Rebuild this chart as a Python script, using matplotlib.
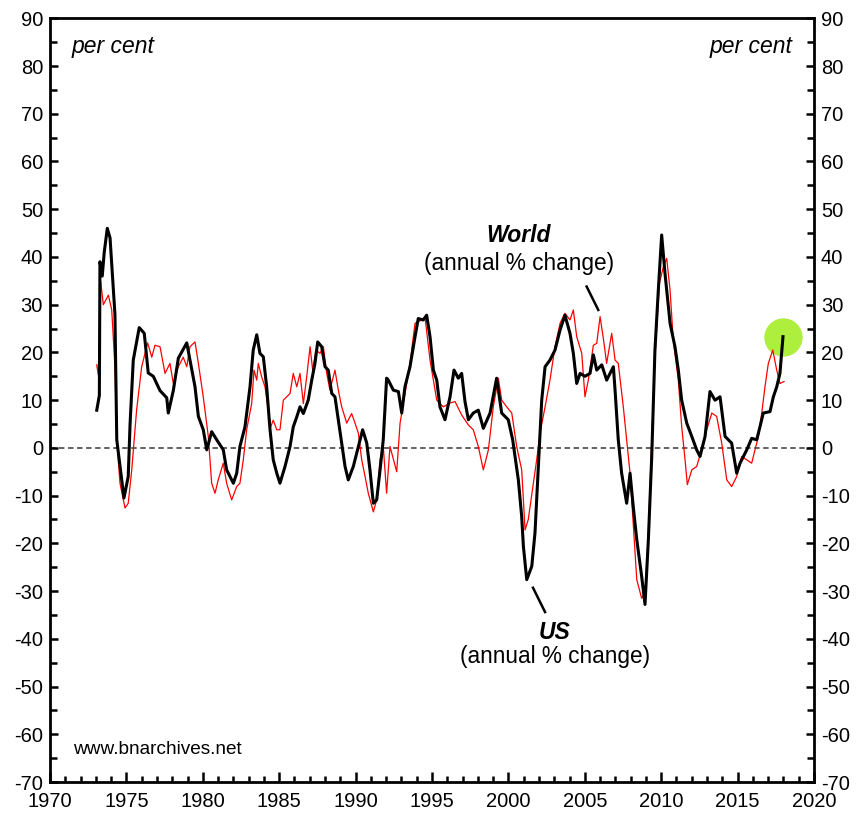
import matplotlib
matplotlib.use("Agg")
import matplotlib.pyplot as plt
from matplotlib.ticker import MultipleLocator

plt.rcParams['font.family'] = ['Liberation Sans', 'DejaVu Sans']
plt.rcParams['axes.unicode_minus'] = False

# US (annual % change)
us_year = [1973.06, 1973.23, 1973.27, 1973.42, 1973.55, 1973.75, 1973.93, 1974.25, 1974.37,
           1974.69, 1974.84, 1975.12, 1975.24, 1975.45, 1975.84, 1976.17, 1976.43, 1976.76,
           1977.20, 1977.64, 1977.74, 1978.07, 1978.40, 1978.95, 1979.16, 1979.49, 1979.71,
           1980.03, 1980.26, 1980.58, 1980.91, 1981.34, 1981.56, 1982.00, 1982.22,
           1982.43, 1982.76, 1983.09, 1983.30, 1983.53, 1983.74, 1983.96, 1984.18, 1984.40,
           1984.61, 1984.84, 1985.05, 1985.38, 1985.71, 1985.92, 1986.15, 1986.36, 1986.58,
           1986.90, 1987.13, 1987.34, 1987.52, 1987.78, 1988.00, 1988.21, 1988.44, 1988.65,
           1988.87, 1989.09, 1989.31, 1989.52, 1989.85, 1990.18, 1990.46, 1990.73, 1990.94,
           1991.16, 1991.38, 1991.60, 1991.81, 1992.03,
           1992.14, 1992.47, 1992.80,
           1993.02, 1993.23, 1993.56, 1993.89, 1994.10, 1994.43, 1994.65, 1994.87, 1995.09,
           1995.31, 1995.52, 1995.85, 1996.18, 1996.44, 1996.72, 1996.94, 1997.16, 1997.38,
           1997.70, 1998.03, 1998.36, 1998.80, 1999.23, 1999.56, 1999.99, 2000.28, 2000.65,
           2000.87, 2000.98, 2001.20, 2001.53, 2001.74, 2001.96, 2002.18, 2002.40, 2002.72,
           2003.05, 2003.38, 2003.70, 2004.03, 2004.25, 2004.47, 2004.69, 2005.01, 2005.34,
           2005.56, 2005.78, 2006.11, 2006.43, 2006.87, 2006.98, 2007.19, 2007.41, 2007.74,
           2007.96, 2008.17, 2008.40, 2008.72, 2008.94, 2009.16, 2009.38, 2009.59, 2009.81,
           2010.03, 2010.25, 2010.58, 2010.90, 2011.12, 2011.34, 2011.67, 2012.00, 2012.32,
           2012.54, 2012.87, 2013.19, 2013.52, 2013.85, 2014.18, 2014.61, 2014.94, 2015.16,
           2015.60, 2015.92, 2016.25, 2016.47, 2016.68, 2017.12, 2017.34, 2017.56, 2017.77,
           2017.97]
us_val = [7.9, 11, 39, 36, 41, 46, 44, 28, 1.7,
          -6.7, -10.5, -6, 5, 18.4, 25.2, 24, 15.7, 15,
          12, 10.5, 7.3, 12, 18.8, 22, 18.4, 12.8, 6.6,
          3.8, -0.4, 3.4, 1.7, -0.4, -4.6, -7.4, -5.3,
          0.3, 4.4, 12.8, 20.5, 23.7, 19.8, 19.1, 12.8, 3.8,
          -2.5, -5.3, -7.4, -3.9, 0.3, 4.4, 6.5, 8.6, 7.2,
          10, 14.2, 17.7, 22.2, 21.2, 17, 16.3, 11.4, 10.7,
          5.8, 1, -3.9, -6.7, -3.9, 0.3, 3.8, 1, -4.6,
          -11.6, -10.9, -4.6, 1.7, 14.6,
          14.2, 12.1, 11.8,
          7.3, 12.8, 17, 23.3, 27.1, 26.8, 27.8, 23.3, 16.3,
          14.2, 8.6, 5.9, 10.7, 16.3, 14.6, 15.6, 9.7, 5.9,
          7.3, 7.9, 4.1, 7.3, 14.6, 7.3, 5.9, 1.7, -6.7,
          -14.4, -20.6, -27.6, -24.8, -17.8, -3.9, 10, 17, 18.4,
          20.5, 24.7, 27.8, 24, 19.8, 13.5, 15.6, 15, 15.6,
          19.5, 16.3, 17.4, 14.2, 17, 12.1, 1.7, -5.3, -11.6,
          -5.3, -12.3, -19.2, -26.9, -32.8, -19.2, -1.8, 20.5, 33,
          44.6, 36.5, 26.1, 21.2, 16.3, 10, 5.2, 2.4, -0.4,
          -1.8, 2.4, 11.8, 10, 10.7, 2.4, 1, -5.3, -3.2,
          -0.4, 2, 1.7, 4.5, 7.3, 7.6, 10.7, 12.8, 15.6,
          23.3]

# World (annual % change)
world_year = [1973.06, 1973.16, 1973.32, 1973.49, 1973.82, 1974.04, 1974.25, 1974.37, 1974.58,
              1974.91, 1975.12, 1975.35, 1975.67, 1976.00, 1976.39, 1976.66, 1976.87, 1977.20,
              1977.53, 1977.85, 1978.07, 1978.40, 1978.72, 1978.95, 1979.16, 1979.49, 1979.71,
              1980.03, 1980.36, 1980.58, 1980.80, 1981.01, 1981.34, 1981.56, 1981.89, 1982.22,
              1982.43, 1982.65, 1982.87, 1983.20, 1983.35, 1983.53, 1983.63, 1983.85, 1984.07,
              1984.29, 1984.44, 1984.61, 1984.84, 1985.05, 1985.27, 1985.49, 1985.71, 1985.92,
              1986.15, 1986.36, 1986.58, 1986.80, 1987.02, 1987.19, 1987.41, 1987.67, 1987.89,
              1988.11, 1988.32, 1988.65, 1988.87, 1989.09, 1989.42, 1989.74, 1989.96, 1990.18,
              1990.40, 1990.62, 1990.83, 1991.16, 1991.38, 1991.60, 1991.81, 1992.03, 1992.25,
              1992.69, 1992.91, 1993.23, 1993.56, 1993.89, 1994.33, 1994.54, 1994.87, 1995.31,
              1995.74, 1996.18, 1996.51, 1996.94, 1997.38, 1997.70, 1998.03, 1998.36, 1998.69,
              1999.01, 1999.34, 1999.56, 1999.89, 2000.22, 2000.54, 2000.87, 2001.09, 2001.30,
              2001.63, 2001.85, 2002.07, 2002.40, 2002.72, 2003.05, 2003.38, 2003.70, 2004.03,
              2004.25, 2004.47, 2004.80, 2005.01, 2005.23, 2005.56, 2005.78, 2006.00, 2006.21,
              2006.43, 2006.76, 2006.98, 2007.19, 2007.52, 2007.74, 2007.96, 2008.17, 2008.40,
              2008.72, 2008.94, 2009.16, 2009.38, 2009.59, 2009.88, 2010.14, 2010.36, 2010.58,
              2010.79, 2011.12, 2011.34, 2011.56, 2011.71, 2012.00, 2012.32, 2012.65, 2012.98,
              2013.31, 2013.63, 2013.96, 2014.29, 2014.61, 2014.94, 2015.27, 2015.60, 2015.92,
              2016.14, 2016.36, 2016.58, 2016.79, 2017.01, 2017.30, 2017.56, 2017.77, 2018.04]
world_val = [17.4, 15.3, 34.8, 30, 32, 28.9, 17, 1.7, -7.4,
             -12.6, -11.6, -4.6, 8, 17, 22, 19, 21.5, 21.2,
             15.6, 17.7, 13.5, 17, 19, 17, 21.2, 22.2, 17.7,
             10.7, 2.4, -7.4, -9.5, -6.7, -3.2, -7.4, -10.9, -8.1,
             -7.4, -2.5, 3.8, 9.3, 16.3, 14.2, 17.7, 14.9, 12.8,
             7.9, 4.4, 5.8, 3.8, 3.8, 10, 10.7, 11.4, 15.6,
             12.8, 15.6, 9.3, 14.9, 21.2, 16.3, 20.5, 19.8, 21.2,
             15.6, 12.1, 16.3, 12.1, 8.6, 5.2, 7.2, 5.2, 3.1,
             -2.5, -6, -9.5, -13.4, -10.9, -2.5, 0.3, -9.5, 0.3,
             -5, 5.2, 11.4, 17.7, 26.1, 26.8, 27.5, 18.4, 10,
             8.6, 9.4, 9.7, 6.9, 4.8, 3.8, 0.3, -4.6, -0.4,
             8.6, 14.6, 10, 8.6, 7.3, 0.3, -4.6, -17.2, -15,
             -7.4, -2.5, 3.1, 8.6, 14.2, 21.2, 26.1, 28.2, 26.8,
             28.9, 23.3, 19.8, 10.7, 14.2, 21.5, 21.9, 27.5, 23,
             17.7, 24, 18.4, 17.7, 8.6, 1.7, -5.3, -15.8, -27.6,
             -31.5, -30.4, -17.8, 1.7, 19, 34.5, 37.9, 39.7, 33,
             22.6, 14.2, 4.5, -2.5, -7.7, -4.6, -3.9, -0.4, 3.8,
             7.3, 6.6, 1, -6.7, -8.1, -6, -1.8, -2.5, -3.2,
             -0.4, 2.4, 7.3, 12.8, 17.7, 20.5, 16.3, 13.5, 13.9]

fig = plt.figure(figsize=(8.68, 8.13), dpi=100)
ax = fig.add_axes([0.0576, 0.0381, 0.8802, 0.9394])

ax.axhline(0, color='#555555', lw=1.3, ls=(0, (3, 2)), zorder=1)
ax.scatter([us_year[-1]], [us_val[-1]], s=760, color='#aeee3c', zorder=2, linewidths=0)
ax.plot(world_year, world_val, color='#ff0000', lw=0.9, zorder=3)
ax.plot(us_year, us_val, color='black', lw=2.2, zorder=4)

ax.set_xlim(1970, 2020)
ax.set_ylim(-70, 90)
ax.xaxis.set_major_locator(MultipleLocator(5))
ax.xaxis.set_minor_locator(MultipleLocator(1))
ax.yaxis.set_major_locator(MultipleLocator(10))
ax.yaxis.set_minor_locator(MultipleLocator(5))
ax.tick_params(axis='both', which='both', direction='in', labelsize=14.5, width=1.8, color='black')
ax.tick_params(axis='x', which='major', length=7, top=False, pad=7.5)
ax.tick_params(axis='x', which='minor', length=4, top=False)
ax.tick_params(axis='y', which='major', length=6, left=True, right=True, labelright=True, pad=5)
ax.tick_params(axis='y', which='minor', length=5, left=True, right=True)
for sp in ax.spines.values():
    sp.set_linewidth(2)

ax.text(1971.44, 84, 'per cent', style='italic', fontsize=16.5, va='center', ha='left')
ax.text(2018.56, 84, 'per cent', style='italic', fontsize=16.5, va='center', ha='right')
ax.text(1971.5, -63.1, 'www.bnarchives.net', fontsize=13.7, va='center', ha='left')

ax.text(2000.69, 44.4, 'World', style='italic', weight='bold', fontsize=16.5, ha='center', va='center')
ax.text(2000.69, 38.7, '(annual % change)', fontsize=16.3, ha='center', va='center')
ax.plot([2005.12, 2005.88], [33.8, 28.9], color='black', lw=1.8)

ax.text(2003.05, -38.6, 'US', style='italic', weight='bold', fontsize=16.5, ha='center', va='center')
ax.text(2003.05, -43.8, '(annual % change)', fontsize=16.3, ha='center', va='center')
ax.plot([2001.61, 2002.40], [-29.3, -34.4], color='black', lw=1.8)

fig.savefig('out.png', dpi=100)
